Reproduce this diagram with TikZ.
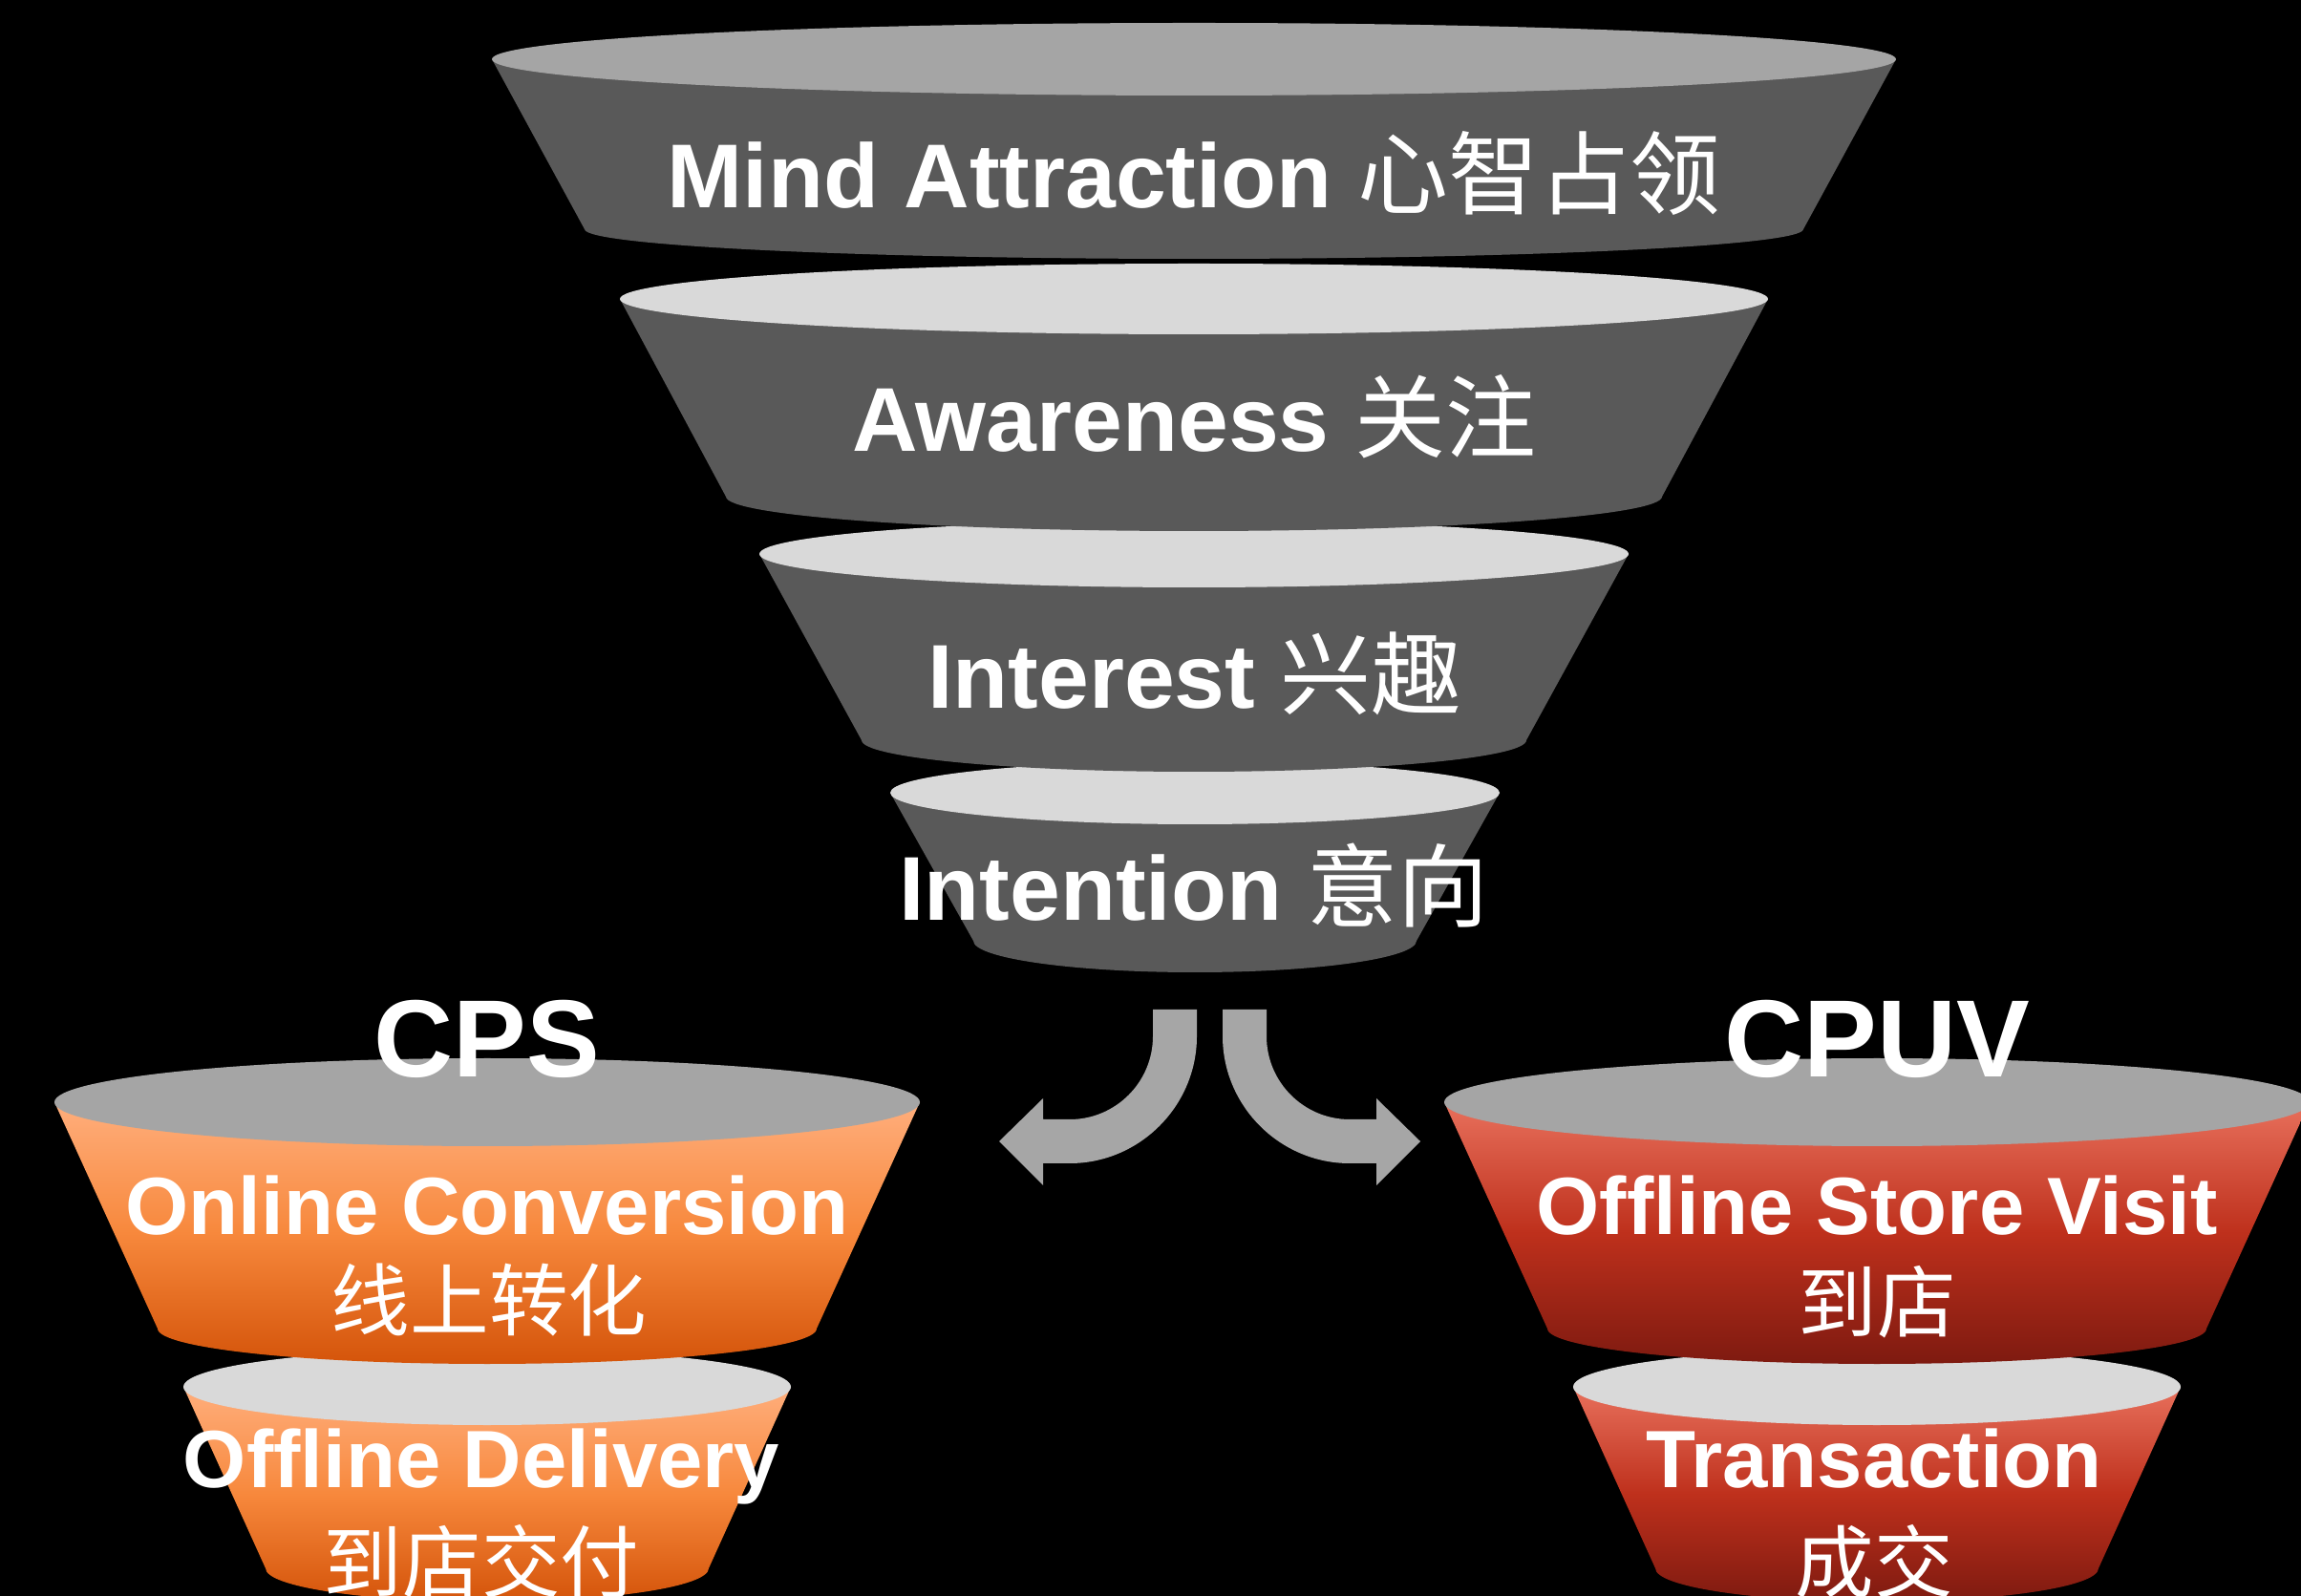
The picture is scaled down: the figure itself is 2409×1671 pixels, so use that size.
\documentclass[tikz,border=0pt]{standalone}
\usepackage{fontspec}
\setmainfont{Liberation Sans}
\newfontfamily\cjk{Noto Sans CJK SC}
\definecolor{bodygray}{HTML}{595959}
\definecolor{midgray}{HTML}{A5A5A5}
\definecolor{lightgray}{HTML}{D9D9D9}
\definecolor{arrowgray}{HTML}{A6A6A6}
\definecolor{orTop}{HTML}{FFAE7C}
\definecolor{orMid}{HTML}{F7883C}
\definecolor{orBot}{HTML}{D4540A}
\definecolor{rdTop}{HTML}{E8705C}
\definecolor{rdMid}{HTML}{BE301C}
\definecolor{rdBot}{HTML}{7E1A10}
% cx, ytop, rx top, ry top, ybottom, rx bottom, ry bottom, body style, top colour
\newcommand{\fseg}[9]{%
  \path[#8] (#1-#3,#2) -- (#1-#6,#5)
    .. controls (#1-#6,#5+0.5523*#7) and (#1-0.5523*#6,#5+#7) .. (#1,#5+#7)
    .. controls (#1+0.5523*#6,#5+#7) and (#1+#6,#5+0.5523*#7) .. (#1+#6,#5)
    -- (#1+#3,#2) -- cycle;
  \fill[#9] (#1,#2) ellipse [x radius=#3, y radius=#4];
}
\tikzset{
  graybody/.style={fill=bodygray},
  orangebody/.style={top color=orTop, bottom color=orBot, middle color=orMid},
  redbody/.style={top color=rdTop, bottom color=rdBot, middle color=rdMid},
  bigtxt/.style={text=white, inner sep=0pt, anchor=base, font=\fontsize{27}{32}\selectfont\bfseries},
  subtxt/.style={text=white, inner sep=0pt, anchor=base, font=\fontsize{24.2}{29}\selectfont\bfseries},
  headtxt/.style={text=white, inner sep=0pt, anchor=base, font=\fontsize{32.7}{38}\selectfont\bfseries},
  cjktxt/.style={text=white, inner sep=0pt, anchor=base, font=\fontsize{23.5}{28}\selectfont\cjk},
  arrowshape/.style={fill=arrowgray},
}
\begin{document}
\begin{tikzpicture}[x=0.01cm,y=-0.01cm]
\fill[black] (0,0) rectangle (2409,1671);
\useasboundingbox (0,0) rectangle (2409,1671);

% main funnel (drawn bottom-up)
\fseg{1251}{830}{319}{33}{985}{232}{33}{graybody}{lightgray}
\fseg{1250}{580}{455}{35}{775}{348}{33}{graybody}{lightgray}
\fseg{1250}{313}{601}{37}{520}{490}{36}{graybody}{lightgray}
\fseg{1250}{62}{735}{38}{240}{638}{31}{graybody}{midgray}

% CPS funnel
\fseg{510}{1452}{318}{40}{1642}{232}{35}{orangebody}{lightgray}
\fseg{510}{1154}{453}{46}{1391}{345}{37}{orangebody}{midgray}

% CPUV funnel
\fseg{1965}{1452}{318}{40}{1642}{232}{35}{redbody}{lightgray}
\fseg{1965}{1154}{453}{46}{1391}{345}{37}{redbody}{midgray}

% split arrows
\path[arrowshape] (1207,1057) -- (1253,1057) -- (1253,1085)
  .. controls (1253,1158) and (1193,1218) .. (1120,1218)
  -- (1092,1218) -- (1092,1241) -- (1046,1195) -- (1092,1150) -- (1092,1172) -- (1120,1172)
  .. controls (1168,1172) and (1207,1133) .. (1207,1085) -- cycle;
\path[arrowshape] (1326,1057) -- (1280,1057) -- (1280,1085)
  .. controls (1280,1158) and (1340,1218) .. (1413,1218)
  -- (1441,1218) -- (1441,1241) -- (1487,1195) -- (1441,1150) -- (1441,1172) -- (1413,1172)
  .. controls (1365,1172) and (1326,1133) .. (1326,1085) -- cycle;

% labels
\node[bigtxt] (mind) at (1250,218) {Mind Attraction {\cjk\mdseries 心智占领}};
\node[bigtxt] (aware) at (1250,473) {Awareness {\cjk\mdseries 关注}};
\node[bigtxt] (inter) at (1251,742) {Interest {\cjk\mdseries 兴趣}};
\node[bigtxt] (inten) at (1250,964) {Intention {\cjk\mdseries 意向}};

\node[headtxt] (cps) at (510,1128) {CPS};
\node[headtxt] (cpuv) at (1965,1128) {CPUV};

\node[subtxt] (onl) at (510,1292) {Online Conversion};
\node[cjktxt] (onlc) at (512,1392) {线上转化};
\node[subtxt] (offd) at (504,1557) {Offline Delivery};
\node[cjktxt] (offdc) at (504,1666) {到店交付};

\node[subtxt] (offs) at (1965,1292) {Offline Store Visit};
\node[cjktxt] (offsc) at (1965,1394) {到店};
\node[subtxt] (trans) at (1962,1557) {Transaction};
\node[cjktxt] (transc) at (1962,1666) {成交};
\end{tikzpicture}
\end{document}
